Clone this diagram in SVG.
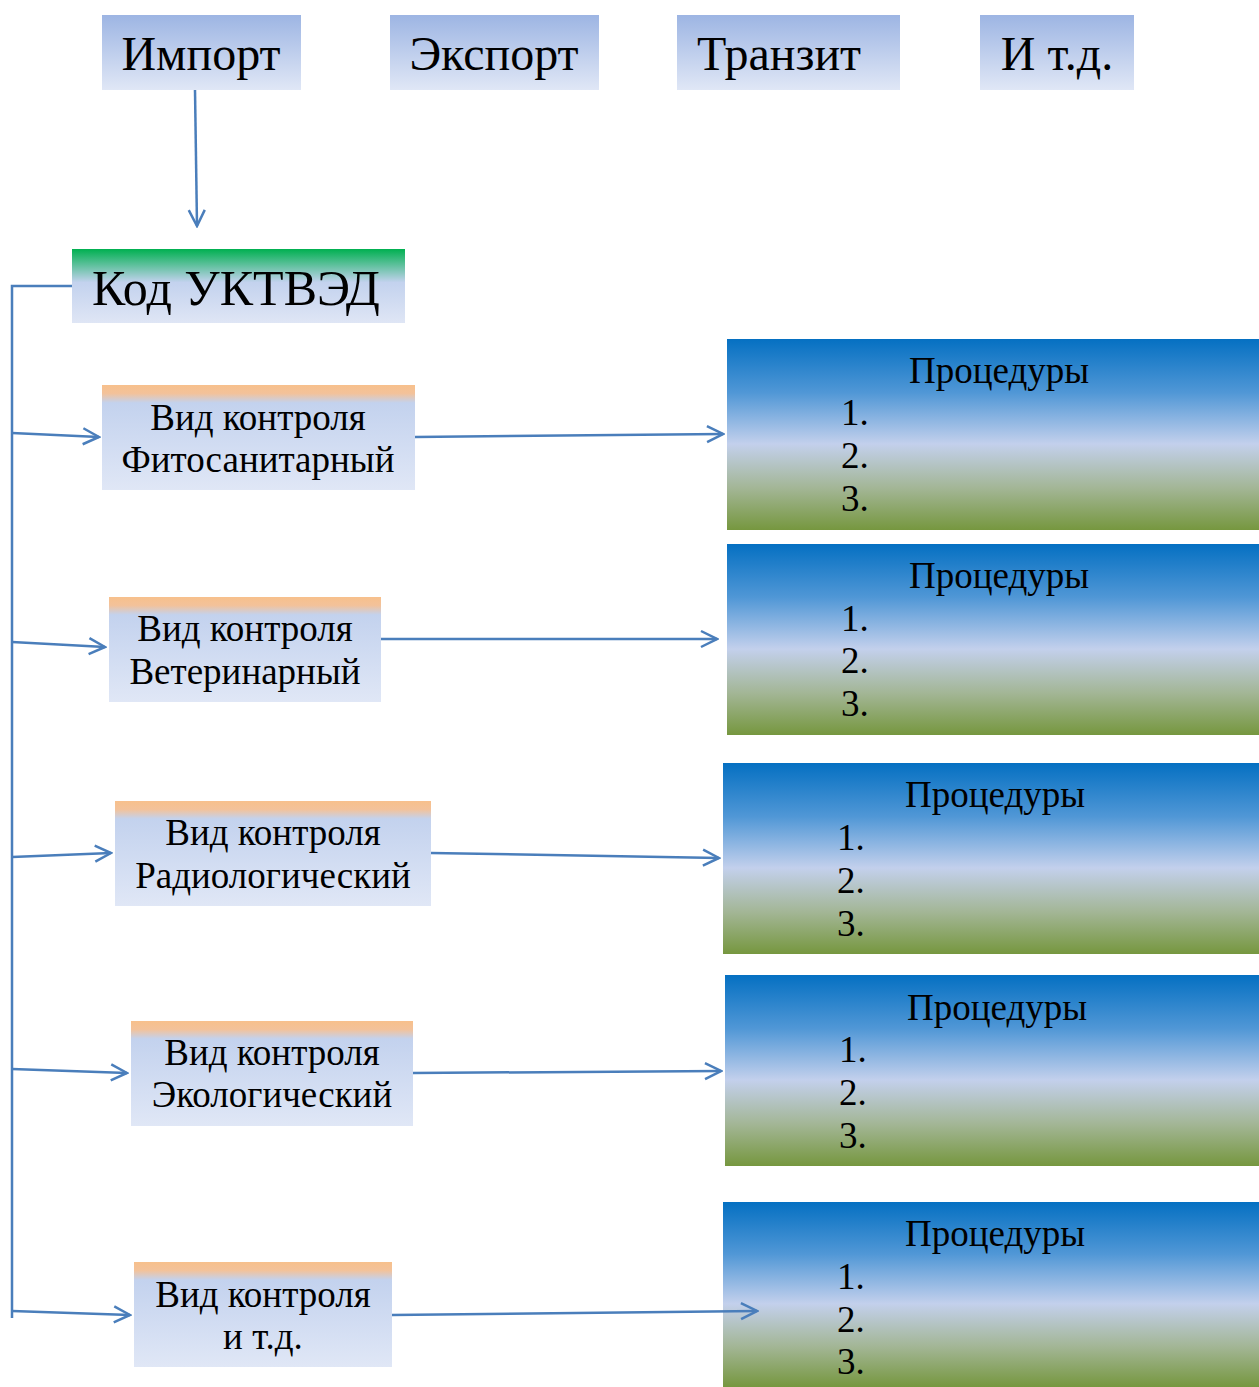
<svg xmlns="http://www.w3.org/2000/svg" width="1259" height="1387" viewBox="0 0 1259 1387">
<defs>
<linearGradient id="gTop" x1="0" y1="0" x2="0" y2="1">
<stop offset="0" stop-color="#9db5e3"/><stop offset="1" stop-color="#e0e7f6"/>
</linearGradient>
<linearGradient id="gCode" x1="0" y1="0" x2="0" y2="1">
<stop offset="0" stop-color="#00b050"/><stop offset="0.45" stop-color="#c3d2ee"/><stop offset="1" stop-color="#dfe6f5"/>
</linearGradient>
<linearGradient id="gCtl" x1="0" y1="0" x2="0" y2="1">
<stop offset="0" stop-color="#f7c08c"/><stop offset="0.08" stop-color="#f3c29a"/><stop offset="0.17" stop-color="#c3d2ee"/><stop offset="1" stop-color="#e0e7f6"/>
</linearGradient>
<linearGradient id="gProc" x1="0" y1="0" x2="0" y2="1">
<stop offset="0" stop-color="#0570c2"/><stop offset="0.28" stop-color="#5097d6"/><stop offset="0.55" stop-color="#c3d0ec"/><stop offset="0.78" stop-color="#a3b696"/><stop offset="1" stop-color="#76973f"/>
</linearGradient>
<marker id="arr" viewBox="0 0 20 20" refX="18" refY="10" markerWidth="20" markerHeight="20" markerUnits="userSpaceOnUse" orient="auto">
<path d="M2,2 L18,10 L2,18" fill="none" stroke="#4a7ebb" stroke-width="2.5"/>
</marker>
</defs>
<style>
text{font-family:"Liberation Serif","Times New Roman",serif;fill:#000}
.big{font-size:48px}
.code{font-size:50px}
.mid{font-size:37px}
.c{text-anchor:middle}
.ln{fill:none;stroke:#4a7ebb;stroke-width:2.5}
.ar{fill:none;stroke:#4a7ebb;stroke-width:2.5;marker-end:url(#arr)}
</style>
<rect width="1259" height="1387" fill="#fff"/>

<g id="import"><rect x="102" y="15" width="199" height="75" fill="url(#gTop)"/><text class="big c" x="201" y="70">Импорт</text></g>
<g id="export"><rect x="390" y="15" width="209" height="75" fill="url(#gTop)"/><text class="big c" x="494" y="70">Экспорт</text></g>
<g id="transit"><rect x="677" y="15" width="223" height="75" fill="url(#gTop)"/><text class="big c" x="779" y="70">Транзит</text></g>
<g id="etc"><rect x="980" y="15" width="154" height="75" fill="url(#gTop)"/><text class="big c" x="1057" y="70">И т.д.</text></g>

<g id="code"><rect x="72" y="249" width="333" height="74" fill="url(#gCode)"/><text class="code" x="92" y="305">Код УКТВЭД</text></g>

<g id="ctl1"><rect x="102" y="385" width="313" height="105" fill="url(#gCtl)"/><text class="mid c" x="258" y="430">Вид контроля</text><text class="mid c" x="258" y="472">Фитосанитарный</text></g>
<g id="ctl2"><rect x="109" y="597" width="272" height="105" fill="url(#gCtl)"/><text class="mid c" x="245" y="641">Вид контроля</text><text class="mid c" x="245" y="684">Ветеринарный</text></g>
<g id="ctl3"><rect x="115" y="801" width="316" height="105" fill="url(#gCtl)"/><text class="mid c" x="273" y="845">Вид контроля</text><text class="mid c" x="273" y="888">Радиологический</text></g>
<g id="ctl4"><rect x="131" y="1021" width="282" height="105" fill="url(#gCtl)"/><text class="mid c" x="272" y="1065">Вид контроля</text><text class="mid c" x="272" y="1107">Экологический</text></g>
<g id="ctl5"><rect x="134" y="1262" width="258" height="105" fill="url(#gCtl)"/><text class="mid c" x="263" y="1307">Вид контроля</text><text class="mid c" x="263" y="1349">и т.д.</text></g>

<g id="proc1"><rect x="727" y="339" width="532" height="191" fill="url(#gProc)"/><text class="mid c" x="999" y="383">Процедуры</text><text class="mid" x="841" y="425">1.</text><text class="mid" x="841" y="468">2.</text><text class="mid" x="841" y="511">3.</text></g>
<g id="proc2"><rect x="727" y="544" width="532" height="191" fill="url(#gProc)"/><text class="mid c" x="999" y="588">Процедуры</text><text class="mid" x="841" y="631">1.</text><text class="mid" x="841" y="673">2.</text><text class="mid" x="841" y="716">3.</text></g>
<g id="proc3"><rect x="723" y="763" width="536" height="191" fill="url(#gProc)"/><text class="mid c" x="995" y="807">Процедуры</text><text class="mid" x="837" y="850">1.</text><text class="mid" x="837" y="893">2.</text><text class="mid" x="837" y="936">3.</text></g>
<g id="proc4"><rect x="725" y="975" width="534" height="191" fill="url(#gProc)"/><text class="mid c" x="997" y="1020">Процедуры</text><text class="mid" x="839" y="1062">1.</text><text class="mid" x="839" y="1105">2.</text><text class="mid" x="839" y="1148">3.</text></g>
<g id="proc5"><rect x="723" y="1202" width="536" height="185" fill="url(#gProc)"/><text class="mid c" x="995" y="1246">Процедуры</text><text class="mid" x="837" y="1289">1.</text><text class="mid" x="837" y="1332">2.</text><text class="mid" x="837" y="1374">3.</text></g>

<g id="connectors">
<path class="ar" d="M195,90 L197,226"/>
<path class="ln" d="M72,286 L12,286 L12,1318"/>
<path class="ar" d="M12,433 L99,437"/>
<path class="ar" d="M12,642 L105,647"/>
<path class="ar" d="M12,857 L111,853"/>
<path class="ar" d="M12,1069 L127,1073"/>
<path class="ar" d="M12,1311 L130,1315"/>
<path class="ar" d="M415,437 L723,434"/>
<path class="ar" d="M381,639 L717,639"/>
<path class="ar" d="M431,853 L719,858"/>
<path class="ar" d="M413,1073 L721,1071"/>
<path class="ar" d="M392,1315 L757,1311"/>
</g>
</svg>
